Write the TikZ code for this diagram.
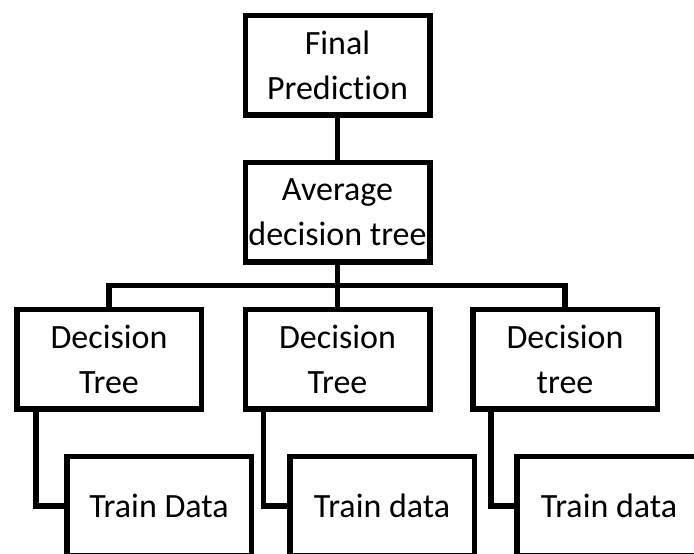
\documentclass[tikz,border=0pt]{standalone}
\usepackage{fontspec}
\setmainfont{Carlito}[Ligatures=CommonOff]

\tikzstyle{box} = [draw, rectangle, line width=5.5pt, minimum width=184.5pt, minimum height=99.5pt, inner sep=0pt, text centered, align=center, font=\fontsize{34}{45}\selectfont]
\tikzstyle{link} = [line width=5.5pt]

\begin{document}
\begin{tikzpicture}[x=1pt, y=-1pt, node distance=147pt]
\useasboundingbox (0,0) rectangle (694,554);

% Top of the tree
\node (final) [box] at (337.5,65) {Final\\Prediction};
\node (avg) [box, below of=final] {Average\\decision tree};

% Decision trees
\node (tree2) [box, below of=avg] {Decision\\Tree};
\node (tree1) [box, left of=tree2, xshift=-81.5pt] {Decision\\Tree};
\node (tree3) [box, right of=tree2, xshift=80.5pt] {Decision\\tree};

% Train data (runs off the page)
\node (data1) [box, below of=tree1, xshift=50pt] {Train Data};
\node (data2) [box, below of=tree2, xshift=44.5pt] {Train data};
\node (data3) [box, below of=tree3, xshift=44pt] {Train data};

% Links
\coordinate (bus) at (337.5,285.5);
\draw [link] (final) -- (avg);
\draw [link] (avg) -- (tree2);
\draw [link] (tree1) |- (bus) -| (tree3);
\draw [link] ([xshift=22pt]tree1.south west) |- (data1);
\draw [link] ([xshift=21pt]tree2.south west) |- (data2);
\draw [link] ([xshift=21pt]tree3.south west) |- (data3);

\end{tikzpicture}
\end{document}
